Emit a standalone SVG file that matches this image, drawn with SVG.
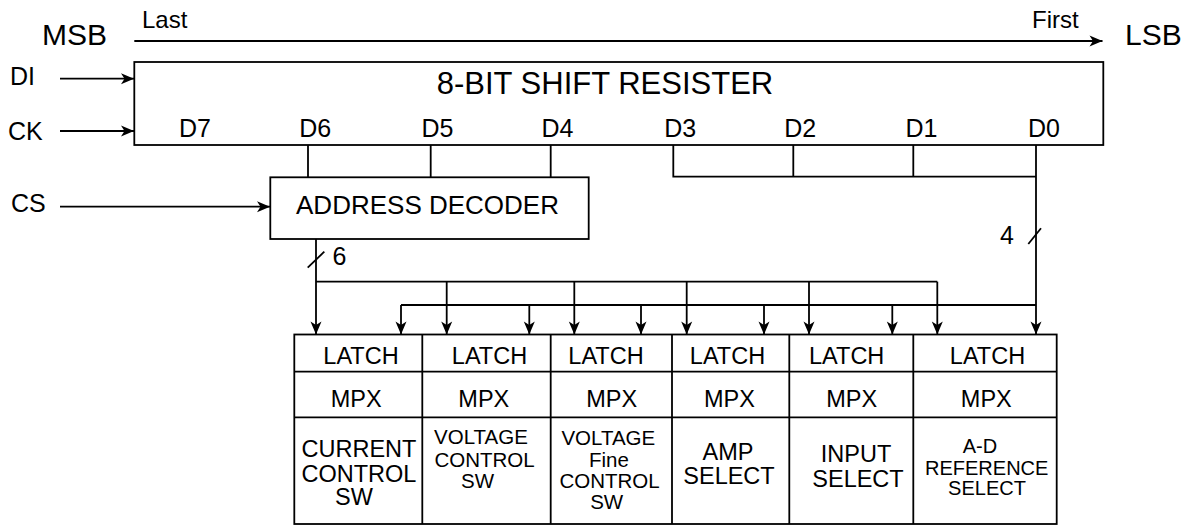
<svg xmlns="http://www.w3.org/2000/svg" width="1194" height="528" viewBox="0 0 1194 528">
<style>
text{font-family:"Liberation Sans",Arial,Helvetica,sans-serif;fill:#000}
.box{fill:#fff;stroke:#000;stroke-width:1.8}
.ln{fill:none;stroke:#000;stroke-width:1.8}
.arr{marker-end:url(#ah)}
.m{text-anchor:middle}
.big{font-size:31px}
.lbl{font-size:25px}
.cell{font-size:23.5px;text-anchor:middle}
.sm{font-size:20.5px;text-anchor:middle}
</style>
<defs>
<marker id="ah" markerUnits="userSpaceOnUse" markerWidth="16" markerHeight="14" viewBox="-14 -7 16 14" refX="0" refY="0" orient="auto">
<path d="M0,0 L-13,-5.5 L-9.5,0 L-13,5.5 Z" fill="#000"/>
</marker>
</defs>

<g id="bit-order">
<text x="42" y="45" style="font-size:30px">MSB</text>
<text x="142" y="27.5" style="font-size:24px">Last</text>
<text x="1032" y="27.5" style="font-size:24px">First</text>
<text x="1125" y="45" style="font-size:30px">LSB</text>
</g>

<g id="inputs">
<text x="10" y="85" class="lbl">DI</text>
<text x="8" y="139.5" class="lbl">CK</text>
<text x="11" y="211.7" class="lbl">CS</text>
</g>

<g id="shift-register">
<rect class="box" x="134.3" y="62" width="969" height="83"/>
<text x="605" y="94.3" class="big m">8-BIT SHIFT RESISTER</text>
<g class="lbl m">
<text x="195" y="136.7">D7</text>
<text x="315.3" y="136.7">D6</text>
<text x="437.5" y="136.7">D5</text>
<text x="557.5" y="136.7">D4</text>
<text x="680.3" y="136.7">D3</text>
<text x="800.3" y="136.7">D2</text>
<text x="921.5" y="136.7">D1</text>
<text x="1044" y="136.7">D0</text>
</g>
</g>

<g id="address-decoder">
<rect class="box" x="270.3" y="177.3" width="318.4" height="61.7"/>
<text x="427.5" y="214.3" style="font-size:26px" class="m">ADDRESS DECODER</text>
</g>

<g id="connectors">
<path class="ln arr" d="M134.3,41 H1102.5"/>
<path class="ln arr" d="M60,78.7 H134"/>
<path class="ln arr" d="M60,131 H134"/>
<path class="ln arr" d="M60,206.7 H270"/>
<path class="ln" d="M308,145 V177.3 M430.7,145 V177.3 M550.7,145 V177.3"/>
<path class="ln" d="M673.3,145 V176.7 H1036 M793.3,145 V176.7 M913.3,145 V176.7"/>
<path class="ln arr" d="M1036,145 V334.5"/>
<path class="ln" d="M1028.3,244 L1041,228.3"/>
<text x="1000" y="244" class="lbl">4</text>
<path class="ln arr" d="M316,239 V334.5"/>
<path class="ln" d="M307.7,267.7 L324.3,251.7"/>
<text x="332.5" y="265" class="lbl">6</text>
<path class="ln" d="M316,281.7 H937.3"/>
<path class="ln" d="M401,305 H1036"/>
<path class="ln arr" d="M401,305 V334.5"/>
<path class="ln arr" d="M446.7,281.7 V334.5"/>
<path class="ln arr" d="M529.3,305 V334.5"/>
<path class="ln arr" d="M574.3,281.7 V334.5"/>
<path class="ln arr" d="M641,305 V334.5"/>
<path class="ln arr" d="M686.7,281.7 V334.5"/>
<path class="ln arr" d="M764,305 V334.5"/>
<path class="ln arr" d="M809,281.7 V334.5"/>
<path class="ln arr" d="M892.3,305 V334.5"/>
<path class="ln arr" d="M937.3,281.7 V334.5"/>
</g>

<g id="latch-table">
<rect class="box" x="294.3" y="334.5" width="762.4" height="189.5"/>
<path class="ln" d="M294.3,371.7 H1056.7 M294.3,417.3 H1056.7"/>
<path class="ln" d="M422.3,334.5 V524 M550.7,334.5 V524 M672,334.5 V524 M789.3,334.5 V524 M913.3,334.5 V524"/>
</g>

<g id="col-current">
<text x="361" y="364" class="cell">LATCH</text>
<text x="356.2" y="407.3" class="cell">MPX</text>
<text x="359" y="456.7" class="cell">CURRENT</text>
<text x="359" y="481.7" class="cell">CONTROL</text>
<text x="354" y="505" class="cell">SW</text>
</g>

<g id="col-voltage">
<text x="489.5" y="364" class="cell">LATCH</text>
<text x="483.8" y="407.3" class="cell">MPX</text>
<text x="481" y="444" class="sm">VOLTAGE</text>
<text x="484.5" y="466.7" class="sm">CONTROL</text>
<text x="477.5" y="487.7" class="sm">SW</text>
</g>

<g id="col-voltage-fine">
<text x="606" y="364" class="cell">LATCH</text>
<text x="611.7" y="407.3" class="cell">MPX</text>
<text x="608.3" y="445" class="sm">VOLTAGE</text>
<text x="609" y="466.7" class="sm">Fine</text>
<text x="609.5" y="488.3" class="sm">CONTROL</text>
<text x="606.7" y="509.3" class="sm">SW</text>
</g>

<g id="col-amp">
<text x="727.5" y="364" class="cell">LATCH</text>
<text x="729.5" y="407.3" class="cell">MPX</text>
<text x="728" y="460" class="cell">AMP</text>
<text x="729" y="483.5" class="cell">SELECT</text>
</g>

<g id="col-input">
<text x="846.7" y="364" class="cell">LATCH</text>
<text x="851.7" y="407.3" class="cell">MPX</text>
<text x="856" y="462.3" class="cell">INPUT</text>
<text x="858" y="486.7" class="cell">SELECT</text>
</g>

<g id="col-ad-ref">
<text x="987.5" y="364" class="cell">LATCH</text>
<text x="986.3" y="407.3" class="cell">MPX</text>
<text x="980" y="453.3" class="sm" style="font-size:20px">A-D</text>
<text x="986.7" y="475" class="sm" style="font-size:20px">REFERENCE</text>
<text x="987" y="495" class="sm" style="font-size:20px">SELECT</text>
</g>
</svg>
